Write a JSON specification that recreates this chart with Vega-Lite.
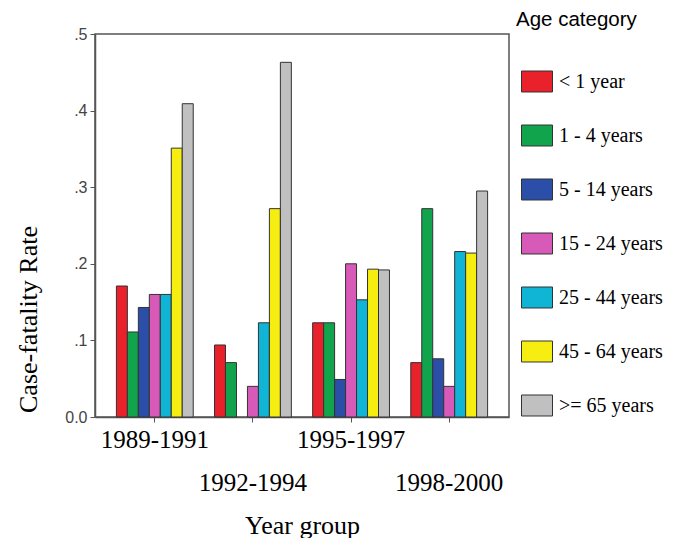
{
  "$schema": "https://vega.github.io/schema/vega-lite/v6.json",
  "width": 414,
  "height": 383,
  "autosize": "none",
  "padding": {"left": 95, "top": 34, "right": 169, "bottom": 121},
  "background": "white",
  "data": {
    "values": [
      {"period": "1989-1991", "age": "<  1 year", "rate": 0.171},
      {"period": "1989-1991", "age": "1 - 4 years", "rate": 0.111},
      {"period": "1989-1991", "age": "5 - 14 years", "rate": 0.143},
      {"period": "1989-1991", "age": "15 - 24 years", "rate": 0.160},
      {"period": "1989-1991", "age": "25 - 44 years", "rate": 0.160},
      {"period": "1989-1991", "age": "45 - 64 years", "rate": 0.351},
      {"period": "1989-1991", "age": ">= 65 years", "rate": 0.409},
      {"period": "1992-1994", "age": "<  1 year", "rate": 0.094},
      {"period": "1992-1994", "age": "1 - 4 years", "rate": 0.071},
      {"period": "1992-1994", "age": "15 - 24 years", "rate": 0.040},
      {"period": "1992-1994", "age": "25 - 44 years", "rate": 0.123},
      {"period": "1992-1994", "age": "45 - 64 years", "rate": 0.272},
      {"period": "1992-1994", "age": ">= 65 years", "rate": 0.463},
      {"period": "1995-1997", "age": "<  1 year", "rate": 0.123},
      {"period": "1995-1997", "age": "1 - 4 years", "rate": 0.123},
      {"period": "1995-1997", "age": "5 - 14 years", "rate": 0.049},
      {"period": "1995-1997", "age": "15 - 24 years", "rate": 0.200},
      {"period": "1995-1997", "age": "25 - 44 years", "rate": 0.153},
      {"period": "1995-1997", "age": "45 - 64 years", "rate": 0.193},
      {"period": "1995-1997", "age": ">= 65 years", "rate": 0.192},
      {"period": "1998-2000", "age": "<  1 year", "rate": 0.071},
      {"period": "1998-2000", "age": "1 - 4 years", "rate": 0.272},
      {"period": "1998-2000", "age": "5 - 14 years", "rate": 0.076},
      {"period": "1998-2000", "age": "15 - 24 years", "rate": 0.040},
      {"period": "1998-2000", "age": "25 - 44 years", "rate": 0.216},
      {"period": "1998-2000", "age": "45 - 64 years", "rate": 0.214},
      {"period": "1998-2000", "age": ">= 65 years", "rate": 0.295}
    ]
  },
  "mark": {"type": "bar", "stroke": "#333333", "strokeWidth": 1},
  "encoding": {
    "x": {
      "field": "period",
      "type": "nominal",
      "sort": ["1989-1991", "1992-1994", "1995-1997", "1998-2000"],
      "scale": {"paddingInner": 0.217, "paddingOuter": 0.218},
      "axis": {
        "labelAngle": 0,
        "labelFont": "Liberation Serif",
        "labelFontSize": 25,
        "labelColor": "#000000",
        "labelBaseline": "top",
        "labelPadding": 5,
        "labelLineHeight": 43,
        "labelOverlap": false,
        "labelBound": false,
        "labelExpr": "indexof(['1992-1994','1998-2000'], datum.label) >= 0 ? ['', datum.label] : datum.label",
        "tickSize": 5,
        "tickColor": "#555555",
        "domainColor": "#555555",
        "domainWidth": 1.5,
        "title": "Year group",
        "titleFont": "Liberation Serif",
        "titleFontSize": 26,
        "titleFontWeight": "normal",
        "titleColor": "#000000",
        "titleY": 116,
        "titleBaseline": "alphabetic"
      }
    },
    "xOffset": {
      "field": "age",
      "type": "nominal",
      "sort": ["<  1 year", "1 - 4 years", "5 - 14 years", "15 - 24 years", "25 - 44 years", "45 - 64 years", ">= 65 years"],
      "scale": {"paddingInner": 0, "paddingOuter": 0}
    },
    "y": {
      "field": "rate",
      "type": "quantitative",
      "scale": {"domain": [0, 0.5], "nice": false},
      "axis": {
        "values": [0, 0.1, 0.2, 0.3, 0.4, 0.5],
        "labelExpr": "datum.value == 0 ? '0.0' : replace(format(datum.value, '.1f'), '0.', '.')",
        "grid": false,
        "tickSize": 5,
        "tickColor": "#555555",
        "domainColor": "#555555",
        "domainWidth": 1.5,
        "labelFont": "Liberation Sans",
        "labelFontSize": 16,
        "labelColor": "#444444",
        "labelPadding": 3,
        "title": "Case-fatality Rate",
        "titleFont": "Liberation Serif",
        "titleFontSize": 26,
        "titleFontWeight": "normal",
        "titleColor": "#000000",
        "titleX": -67,
        "titleY": 285,
        "titleAngle": -90,
        "titleAlign": "center",
        "titleBaseline": "middle"
      }
    },
    "color": {
      "field": "age",
      "type": "nominal",
      "scale": {
        "domain": ["<  1 year", "1 - 4 years", "5 - 14 years", "15 - 24 years", "25 - 44 years", "45 - 64 years", ">= 65 years"],
        "range": ["#e8212b", "#12a44c", "#2b4ea8", "#d85ab8", "#10b4d4", "#f6ee10", "#c0c0c0"]
      },
      "legend": {
        "orient": "none",
        "legendX": 421,
        "legendY": -24,
        "padding": 0,
        "title": "Age category",
        "titleFont": "Liberation Sans",
        "titleFontSize": 20.5,
        "titleFontWeight": "normal",
        "titleColor": "#000000",
        "titlePadding": 35,
        "labelFont": "Liberation Serif",
        "labelFontSize": 20,
        "labelColor": "#000000",
        "labelOffset": 6,
        "symbolType": "M-1,-0.677L1,-0.677L1,0.677L-1,0.677Z",
        "symbolSize": 961,
        "symbolStrokeColor": "#333333",
        "symbolStrokeWidth": 1,
        "symbolOpacity": 1,
        "rowPadding": 25,
        "encode": {"title": {"update": {"dx": {"value": -5}}}}
      }
    }
  },
  "config": {"view": {"stroke": "#555555", "strokeWidth": 1.5}}
}
